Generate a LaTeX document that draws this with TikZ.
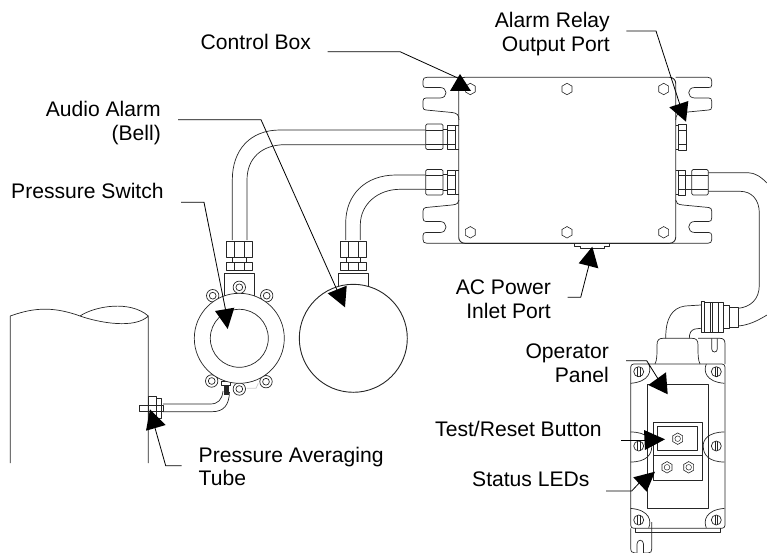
\documentclass[tikz,border=0pt]{standalone}
\usepackage{fontspec}
\setmainfont{Liberation Sans}
\usetikzlibrary{shapes.geometric,positioning,calc}

\tikzset{
  part/.style={draw=black!85, line width=0.7pt, line join=round},
  leader/.style={draw=black, line width=0.8pt},
  lbl/.style={inner sep=0pt, font=\fontsize{21.1}{24}\selectfont},
  hexbolt/.style={regular polygon, regular polygon sides=6, regular polygon rotate=30, draw=black!85, line width=0.6pt, minimum size=11.5pt, inner sep=0pt},
}

\begin{document}
\begin{tikzpicture}[x=1pt, y=-1pt]
        \useasboundingbox (0,0) rectangle (767,553);

        % Pipe
        \draw[part] (10.3,463) -- (10.3,316) .. controls (30,309) and (50,305) .. (80,316) .. controls (100,323) and (135,329) .. (148.3,316) -- (148.3,463);
        \draw[part] (80,316) .. controls (95,306) and (130,300) .. (148.3,316);

        % Mounting flange on the pipe
        \draw[part] (148.3,396) rectangle (156.7,418);
        \draw[part] (156.7,398) rectangle (161.7,418);
        \draw[part] (139.3,405.7) rectangle (163.3,411);

        % Averaging tube
        \draw[part] (163,404) -- (210,404) .. controls (218,404) and (222,400) .. (223,391);
        \draw[part] (163,411.7) -- (212,411.7) .. controls (224,411.7) and (229,405) .. (229.5,392);
        \fill[black!85] (224,385) rectangle (229.3,395);
        \draw[part, line width=0.5pt] (221,381.5) rectangle (230.7,385);

        % Conduit bends
        \draw[part] (232.3,240) -- (232.3,180) .. controls (232.3,150) and (250,130) .. (280,130) -- (426,130);
        \draw[part] (247,240) -- (247,180) .. controls (247,158) and (262,144.7) .. (285,144.7) -- (426,144.7);
        \draw[part] (345.7,240) -- (345.7,223) .. controls (345.7,195) and (365,175) .. (396,175) -- (426,175);
        \draw[part] (360.3,240) -- (360.3,225) .. controls (360.3,204) and (378,189.3) .. (400,189.3) -- (426,189.3);

        % Vertical glands
        \foreach \x in {239.7,353.7} {
          \draw[part] (\x-13,241.7) rectangle (\x+13,257.3);
          \draw[part] (\x-5,241.7) -- (\x-5,257.3) (\x+5,241.7) -- (\x+5,257.3);
          \draw[part] (\x-7,257.3) -- (\x-7,262.3) (\x+7,257.3) -- (\x+7,262.3);
          \draw[part] (\x-13,262.3) rectangle (\x+13,270.7);
          \draw[part] (\x-5,262.3) -- (\x-5,270.7) (\x+5,262.3) -- (\x+5,270.7);
        }

        % Pressure switch
        \draw[part] (224.7,300) -- (224.7,273) -- (254.7,273) -- (254.7,300);
        \foreach \x/\y in {239.3/287.3, 212.7/295.7, 266.7/295.7, 211.7/381, 266/381.7, 239.3/389} {
          \draw[part, fill=white] (\x,\y) circle (6.2);
          \draw[part] (\x,\y) circle (3.4);
        }
        \draw[part, fill=white] (239.3,338.3) circle (45);
        \draw[part] (239.3,338.3) circle (29);
        \draw[black!20, line width=0.7pt] (246.7,388.3) -- (256,388.3) -- (258.3,383.3);

        % Audio alarm
        \draw[part] (338.7,290) -- (338.7,273) -- (368.3,273) -- (368.3,290);
        \draw[part, line width=0.9pt, fill=white] (353.3,338.3) circle (54);

        % Control box lugs
        \draw[part] (459,77.3) -- (427,77.3) .. controls (424,77.3) and (423,78.5) .. (423,81) -- (423,85) .. controls (423,87) and (424,87.5) .. (426,87.5) -- (440,87.5) .. controls (448,87.5) and (448,98) .. (440,98) -- (426,98) .. controls (424,98) and (423,99) .. (423,101) -- (423,107) .. controls (423,109) and (424,110) .. (426,110) -- (452,112.5) .. controls (457,113) and (459,115) .. (459,120);
        \draw[part] (675.7,77.3) -- (707.7,77.3) .. controls (710.7,77.3) and (711.7,78.5) .. (711.7,81) -- (711.7,85) .. controls (711.7,87) and (710.7,87.5) .. (708.7,87.5) -- (694.7,87.5) .. controls (686.7,87.5) and (686.7,98) .. (694.7,98) -- (708.7,98) .. controls (710.7,98) and (711.7,99) .. (711.7,101) -- (711.7,107) .. controls (711.7,109) and (710.7,110) .. (708.7,110) -- (682.7,112.5) .. controls (677.7,113) and (675.7,115) .. (675.7,120);
        \draw[part] (459,200) .. controls (459,203) and (457,204.5) .. (452,205) -- (426,207.5) .. controls (424,207.7) and (423,209) .. (423,211) -- (423,218) .. controls (423,220.5) and (424,221.5) .. (426,221.5) -- (440,221.5) .. controls (448,221.5) and (448,232.5) .. (440,232.5) -- (426,232.5) .. controls (424,232.5) and (423,233.5) .. (423,235.5) -- (423,239.5) .. controls (423,242) and (424,243.3) .. (427,243.3) -- (707.7,243.3) .. controls (710.7,243.3) and (711.7,242) .. (711.7,239.5) -- (711.7,235.5) .. controls (711.7,233.5) and (710.7,232.5) .. (708.7,232.5) -- (694.7,232.5) .. controls (686.7,232.5) and (686.7,221.5) .. (694.7,221.5) -- (708.7,221.5) .. controls (710.7,221.5) and (711.7,220.5) .. (711.7,218) -- (711.7,211) .. controls (711.7,209) and (710.7,207.7) .. (708.7,207.5) -- (682.7,205) .. controls (677.7,204.5) and (675.7,203) .. (675.7,200);

        % Control box
        \draw[part, line width=0.9pt, rounded corners=6pt] (458.7,77.3) -- (675.7,77.3) -- (675.7,243.3) -- (458.7,243.3) -- cycle;
        \foreach \x in {470.3,567,663.7} {
          \foreach \y in {89,232.3} {
            \node[hexbolt] (bolt\x\y) at (\x,\y) {};
          }
        }

        % Horizontal glands on the left side
        \foreach \y in {124,169.5} {
          \draw[part, rounded corners=1.5pt, fill=white] (425.7,\y) rectangle (443,\y+25.5);
          \draw[part] (425.7,\y+6) -- (443,\y+6) (425.7,\y+20) -- (443,\y+20);
          \draw[part] (443,\y+5) -- (447.7,\y+5) (443,\y+20.5) -- (447.7,\y+20.5);
          \draw[part] (447.7,\y+1) rectangle (455.7,\y+25);
          \draw[part] (447.7,\y+6) -- (455.7,\y+6) (447.7,\y+20) -- (455.7,\y+20);
          \draw[part] (455.7,\y+1) -- (458.7,\y+1) (455.7,\y+25) -- (458.7,\y+25);
        }

        % Alarm relay port
        \draw[part] (675.7,125) -- (678.3,125) (675.7,149) -- (678.3,149);
        \draw[part] (678.3,124) rectangle (686.7,150);
        \draw[part] (678.3,130) -- (686.7,130) (678.3,144) -- (686.7,144);

        % Gland on the right side
        \draw[part] (675.7,170.5) -- (678.3,170.5) (675.7,194.5) -- (678.3,194.5);
        \draw[part] (678.3,170) rectangle (685.5,195);
        \draw[part] (678.3,175.5) -- (685.5,175.5) (678.3,189.5) -- (685.5,189.5);
        \draw[part] (685.5,175) -- (691.7,175) (685.5,189.5) -- (691.7,189.5);
        \draw[part, rounded corners=1.5pt] (691.7,169.5) rectangle (708.3,195);
        \draw[part] (691.7,175.5) -- (708.3,175.5) (691.7,189.5) -- (708.3,189.5);

        % AC inlet port
        \draw[part] (574.3,243.3) -- (574.3,246) -- (580,246) -- (580,248.5) -- (604,248.5) -- (604,246) -- (609.3,246) -- (609.3,243.3);

        % Cable to the panel
        \draw[part] (708.3,172.7) -- (748,172.7) .. controls (755,172.7) and (761,177) .. (767,183);
        \draw[part] (708.3,191.3) -- (740,191.3) .. controls (752,191.3) and (759.3,200) .. (759.3,213) -- (759.3,285) .. controls (759.3,300) and (750,307) .. (738.3,308.3);
        \draw[part] (738.3,326) .. controls (749,325) and (757,321) .. (767,315);

        % Cable fitting
        \draw[part] (701,301) rectangle (704,332.7);
        \draw[part] (704,302.3) rectangle (723.3,332.3);
        \draw[part] (710.7,302.3) -- (710.7,332.3) (712.3,302.3) -- (712.3,332.3) (718,302.3) -- (718,332.3);
        \draw[part] (723.3,305.7) rectangle (729,328.3);
        \draw[part] (729,307.3) rectangle (738.3,327.7);
        \draw[part] (701,305) -- (685,306) .. controls (672,308) and (665.7,318) .. (665.7,338.3);
        \draw[part] (701,328.3) -- (695,329) .. controls (691,330) and (689.3,333) .. (689.3,338.3);

        % Operator panel housing
        \draw[part] (655,364) .. controls (657,360) and (657,355) .. (657,345) .. controls (657,340) and (659,338.3) .. (663,338.3) -- (692,338.3) .. controls (696,338.3) and (698,340) .. (698,345) .. controls (698,355) and (698,360) .. (700,364);
        \draw[part] (698,338.3) -- (720,338.3) .. controls (723.5,338.3) and (725,340) .. (725,344) -- (725,364);
        \draw[part] (711.7,338.3) -- (711.7,349) .. controls (711.7,353) and (717.3,353) .. (717.3,349) -- (717.3,338.3);
        \draw[part, rounded corners=3pt] (630.7,364) rectangle (725,528.3);
        \draw[part] (635,528.3) -- (635,532.3) -- (720,532.3) -- (720,528.3);
        \draw[part] (630.7,528.3) -- (630.7,548) .. controls (630.7,551.5) and (632,553) .. (635,553) -- (636.5,553) (651.7,522) -- (651.7,549) .. controls (651.7,551.5) and (651,553) .. (648,553) -- (643.5,553);
        \draw[part] (637,553) -- (637,544) .. controls (637,539) and (643.5,539) .. (643.5,544) -- (643.5,553);
        \draw[part] (647,384.3) rectangle (708.3,508.3);
        \draw[part] (653.3,422.3) rectangle (702.3,480);
        \draw[part] (653.3,455) -- (702.3,455);
        \draw[part, line width=0.9pt] (657.7,426.7) rectangle (697.7,450.3);

        % Panel screws and their recesses
        \foreach \x/\y/\sx/\sy in {638.7/371.7/1/1, 716.3/371.7/-1/1, 638.7/520/1/-1, 716.3/520/-1/-1} {
          \draw[part] (\x,\y) circle (5);
          \draw[part] (\x-1.2,\y-5) -- (\x-1.2,\y+5) (\x+1.2,\y-5) -- (\x+1.2,\y+5);
          \begin{scope}[shift={(\x,\y)}, xscale=\sx, yscale=\sy]
            \draw[part] (10,-7.7) .. controls (13,-1) and (11,10) .. (-8,11.6);
          \end{scope}
        }
        \foreach \x/\sx in {638.7/1, 716.3/-1} {
          \draw[part] (\x,446) circle (5);
          \draw[part] (\x-1.2,441) -- (\x-1.2,451) (\x+1.2,441) -- (\x+1.2,451);
          \begin{scope}[shift={(\x,446)}, xscale=\sx]
            \draw[part] (-8,-14) .. controls (8,-14) and (14,-6) .. (13,1) .. controls (13,8) and (8,16) .. (-8,16);
          \end{scope}
        }
        \foreach \x/\y in {677.7/438.7, 667/467.3, 688.7/467.3} {
          \node[hexbolt] (nut\x\y) at (\x,\y) {};
          \draw[part, line width=0.5pt] (\x,\y) circle (2.8);
        }

        % Labels
        \node[lbl, anchor=base west] (controlbox) at (200.5,49.3) {Control Box};
        \node[lbl, anchor=base east] (relaylbl) at (610,28) {Alarm Relay};
        \node[lbl, anchor=base east] (relaylbltwo) at (610,51.7) {Output Port};
        \node[lbl, anchor=base east] (bell) at (161,116.7) {Audio Alarm};
        \node[lbl, anchor=base east] (belltwo) at (161,141) {(Bell)};
        \node[lbl, anchor=base west] (switchlbl) at (11,199) {Pressure Switch};
        \node[lbl, anchor=base east] (aclbl) at (551,294) {AC Power};
        \node[lbl, anchor=base east] (acltwo) at (551,318) {Inlet Port};
        \node[lbl, anchor=base east] (operator) at (609,358) {Operator};
        \node[lbl, anchor=base east] (operatortwo) at (609,382) {Panel};
        \node[lbl, anchor=base west] (testlbl) at (435,436.7) {Test/Reset Button};
        \node[lbl, anchor=base west] (statuslbl) at (472,486.7) {Status LEDs};
        \node[lbl, anchor=base west] (tubelbl) at (198.5,462) {Pressure Averaging};
        \node[lbl, anchor=base west] (tubelbltwo) at (198.5,485.7) {Tube};

        % Leader ends
        \coordinate (boxstart) at (327.7,51.7);
        \coordinate (boxknee) at (400,51.7);
        \coordinate (boxtip) at (460,79);
        \coordinate (relaystart) at (626.3,31);
        \coordinate (relayknee) at (656,31);
        \coordinate (relaytip) at (680,105);
        \coordinate (bellstart) at (178,119.7);
        \coordinate (bellknee) at (261,119.7);
        \coordinate (belltip) at (337,290);
        \coordinate (switchstart) at (181,202.3);
        \coordinate (switchknee) at (204,202.3);
        \coordinate (switchtip) at (226,312);
        \coordinate (acstart) at (567.7,297.3);
        \coordinate (acknee) at (580.7,297.3);
        \coordinate (actip) at (589,265);
        \coordinate (tubestart) at (181.7,465.7);
        \coordinate (tubeknee) at (165.7,465.7);
        \coordinate (tubetip) at (155,428);
        \coordinate (panelstart) at (626,360.7);
        \coordinate (panelknee) at (646.7,360.7);
        \coordinate (paneltip) at (660,382);
        \coordinate (teststart) at (621,440);
        \coordinate (testtip) at (645,440);
        \coordinate (statusstart) at (606,491);
        \coordinate (statusknee) at (631.7,491);
        \coordinate (statustip) at (642,480);

        % Leaders
        \draw[leader] (boxstart) -- (boxknee) -- (boxtip);
        \draw[leader] (relaystart) -- (relayknee) -- (relaytip);
        \draw[leader] (bellstart) -- (bellknee) -- (belltip);
        \draw[leader] (switchstart) -- (switchknee) -- (switchtip);
        \draw[leader] (acstart) -- (acknee) -- (actip);
        \draw[leader] (tubestart) -- (tubeknee) -- (tubetip);
        \draw[leader] (panelstart) -- (panelknee) -- (paneltip);
        \draw[leader] (teststart) -- (testtip);
        \draw[leader] (statusstart) -- (statusknee) -- (statustip);

        % Arrow heads
        \fill (460,74) -- (450,91) -- (471,91) -- cycle;
        \fill (686,121.7) -- (669.3,107.3) -- (688.3,101) -- cycle;
        \fill (346.7,285.7) -- (327.7,293.3) -- (345,307.3) -- cycle;
        \fill (227.7,329) -- (215,311) -- (234.3,307.7) -- cycle;
        \fill (592.3,246.7) -- (578.7,263.3) -- (598.3,268.3) -- cycle;
        \fill (150,409.3) -- (146,430.7) -- (165.7,425) -- cycle;
        \fill (648.3,385) -- (666,372.3) -- (667.7,394.3) -- cycle;
        \fill (665,439.3) -- (644,430) -- (645,450) -- cycle;
        \fill (655,471.7) -- (633.3,477.3) -- (646.7,491.7) -- cycle;
      \end{tikzpicture}
\end{document}
